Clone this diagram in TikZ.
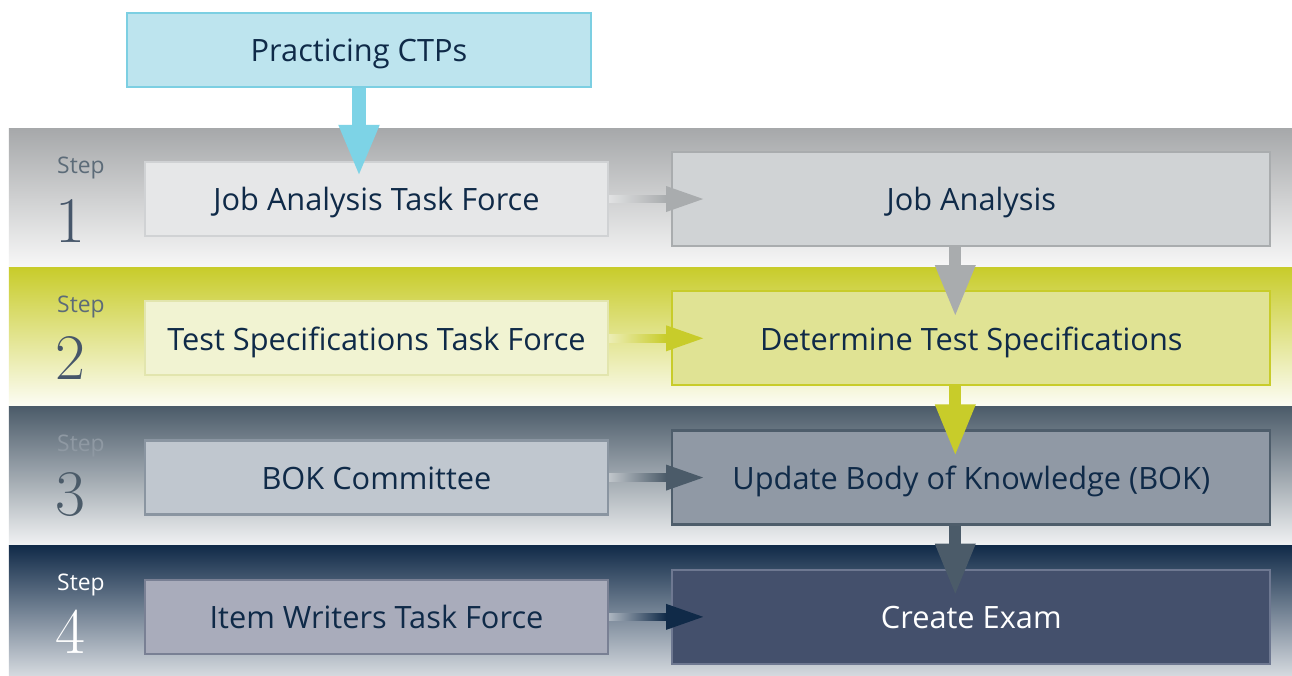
\documentclass[tikz,border=0pt]{standalone}
\usepackage{fontspec}
\newfontfamily\labelfont{Open Sans}
\usepackage{xcolor}
\usepackage{tikz}
\usetikzlibrary{arrows.meta,positioning,calc,shadings}

% band and box colours
\definecolor{ctpfill}{HTML}{BDE4EE}
\definecolor{ctpline}{HTML}{7CCFE2}
\definecolor{ctparrow}{HTML}{7DD3E6}
\definecolor{inkblue}{HTML}{0F2A48}
\definecolor{greyband}{HTML}{A6A8AA}
\definecolor{limeband}{HTML}{C8CC2A}
\definecolor{slateband}{HTML}{4B5B69}
\definecolor{navyband}{HTML}{102A48}
\definecolor{greyleft}{HTML}{E6E7E8}
\definecolor{greyleftline}{HTML}{D0D2D4}
\definecolor{greyright}{HTML}{D0D3D5}
\definecolor{greyrightline}{HTML}{A9ACAE}
\definecolor{limeleft}{HTML}{F1F3D2}
\definecolor{limeleftline}{HTML}{E2E5AE}
\definecolor{limeright}{HTML}{E0E394}
\definecolor{limerightline}{HTML}{C8CC2A}
\definecolor{slateleft}{HTML}{C0C7CF}
\definecolor{slateleftline}{HTML}{8A95A1}
\definecolor{slateright}{HTML}{9099A5}
\definecolor{slaterightline}{HTML}{4E5D6B}
\definecolor{navyleft}{HTML}{A9ACBB}
\definecolor{navyleftline}{HTML}{798094}
\definecolor{navyright}{HTML}{44506C}
\definecolor{navyrightline}{HTML}{6E7891}
\definecolor{steptext}{HTML}{5C6B78}
\definecolor{stepfaint}{HTML}{8F99A3}
\definecolor{stepnum}{HTML}{46566A}

% side arrow: fading shaft plus solid head
\newcommand{\stepflow}[3]{%
  \shade[left color=#3!35!white, right color=#3]
    ([yshift=-0.075cm]#1.east) rectangle ([xshift=-0.1cm,yshift=0.075cm]#2.west);
  \fill[#3] ([xshift=-0.1cm,yshift=0.26cm]#2.west) -- ([xshift=0.64cm]#2.west)
    -- ([xshift=-0.1cm,yshift=-0.26cm]#2.west) -- cycle;}

\begin{document}
\begin{tikzpicture}[
    task/.style 2 args={rectangle, fill=#1, draw=#2, line width=1.3pt, minimum width=9.26cm,
      minimum height=1.48cm, font=\labelfont\fontsize{17.5}{20}\selectfont, text=inkblue,
      text height=13.5pt, text depth=0pt},
    stage/.style 2 args={rectangle, fill=#1, draw=#2, line width=1.3pt, minimum width=11.96cm,
      minimum height=1.88cm, font=\labelfont\fontsize{17.5}{20}\selectfont, text=inkblue,
      text height=13.5pt, text depth=0pt},
    steplabel/.style={anchor=west, font=\labelfont\fontsize{13}{15}\selectfont, text=steptext},
    stepnumber/.style={anchor=west, font=\fontsize{37}{39}\selectfont, text=stepnum},
    down/.style={-{Triangle[width=0.74cm,length=1.04cm]}, line width=0.24cm, color=#1},
]
    \useasboundingbox (0,0) rectangle (25.84,-13.5);
    \fill[white] (0,0) rectangle (25.84,-13.5);

    % Background bands
    \shade[top color=greyband, middle color=greyband!60!white, bottom color=white!97!black]
      (0.18,-2.56) rectangle (25.84,-5.34);
    \shade[top color=limeband, middle color=limeband!75!white, bottom color=limeband!5!white]
      (0.18,-5.34) rectangle (25.84,-8.12);
    \shade[top color=slateband, middle color=slateband!60!white, bottom color=slateband!8!white]
      (0.18,-8.12) rectangle (25.84,-10.9);
    \shade[top color=navyband, middle color=navyband!65!white, bottom color=navyband!18!white]
      (0.18,-10.9) rectangle (25.84,-13.5);

    % Step labels
    \node[steplabel] (s1) at (1.02,-3.36) {Step};
    \node[stepnumber] (n1) at (0.98,-4.42) {1};
    \node[steplabel] (s2) at (1.02,-6.14) {Step};
    \node[stepnumber] (n2) at (0.98,-7.16) {2};
    \node[steplabel, text=stepfaint] (s3) at (1.02,-8.92) {Step};
    \node[stepnumber, text=slateband] (n3) at (0.98,-9.9) {3};
    \node[steplabel, text=white] (s4) at (1.02,-11.7) {Step};
    \node[stepnumber, text=white] (n4) at (0.98,-12.64) {4};

    % Source group
    \node[task={ctpfill}{ctpline}, minimum width=9.28cm] (ctp) at (7.18,-1.0) {Practicing CTPs};

    % Left column: task forces
    \node[task={greyleft}{greyleftline}] (jatf) at (7.53,-3.98) {Job Analysis Task Force};
    \node[task={limeleft}{limeleftline}, below=1.26cm of jatf] (tstf) {Test Specifications Task Force};
    \node[task={slateleft}{slateleftline}, below=1.26cm of tstf] (bokc) {BOK Committee};
    \node[task={navyleft}{navyleftline}, below=1.26cm of bokc] (iwtf) {Item Writers Task Force};

    % Right column: activities
    \node[stage={greyright}{greyrightline}, right=1.24cm of jatf] (ja) {Job Analysis};
    \node[stage={limeright}{limerightline}, right=1.24cm of tstf] (dts) {Determine Test Specifications};
    \node[stage={slateright}{slaterightline}, right=1.24cm of bokc] (ubok) {Update Body of Knowledge (BOK)};
    \node[stage={navyright}{navyrightline}, right=1.24cm of iwtf, text=white] (ce) {Create Exam};

    % Side arrows
    \stepflow{jatf}{ja}{greyrightline}
    \stepflow{tstf}{dts}{limeband}
    \stepflow{bokc}{ubok}{slateband}
    \stepflow{iwtf}{ce}{navyband}

    % Down arrows
    \draw[down=ctparrow, line width=0.28cm] (ctp.south) -- ($(ctp.south |- jatf.north)+(0,-0.32)$);
    \draw[down=greyrightline] ([xshift=-0.32cm]ja.south) -- ([xshift=-0.32cm,yshift=-0.54cm]dts.north);
    \draw[down=limeband] ([xshift=-0.32cm]dts.south) -- ([xshift=-0.32cm,yshift=-0.54cm]ubok.north);
    \draw[down=slateband] ([xshift=-0.32cm]ubok.south) -- ([xshift=-0.32cm,yshift=-0.54cm]ce.north);

\end{tikzpicture}
\end{document}
